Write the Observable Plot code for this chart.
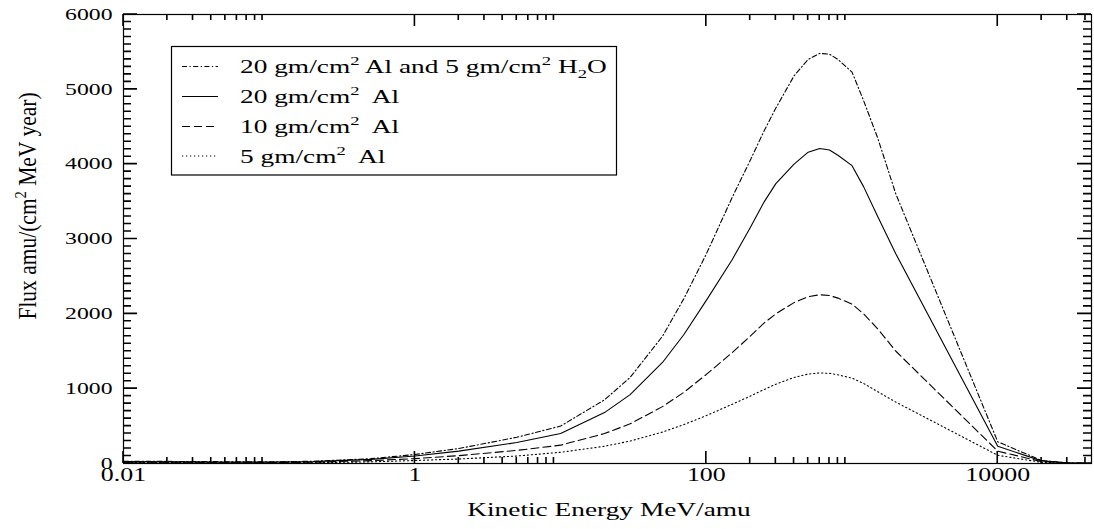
<!DOCTYPE html>
<html><head><meta charset="utf-8">
<script src="https://cdn.jsdelivr.net/npm/d3@7"></script>
<script src="https://cdn.jsdelivr.net/npm/@observablehq/plot@0.6"></script>
<style>
html,body{margin:0;padding:0;background:#fff;}
#chart{position:relative;width:1094px;height:529px;}
</style></head><body><div id="chart"></div>
<script>
// ---- data ----
const energy = [0.01, 0.02, 0.05, 0.1, 0.2, 0.5, 1, 2, 5, 10, 20, 30, 50, 70, 100, 150, 200, 250, 300, 400, 500, 600, 700, 800, 1000, 1200, 1500, 2000, 10000, 20000, 30000, 40000];
const fluxAlH2O = [30, 28, 24, 22, 30, 65, 120, 200, 350, 500, 850, 1150, 1700, 2200, 2800, 3550, 4050, 4450, 4750, 5180, 5400, 5480, 5470, 5400, 5230, 4850, 4350, 3600, 290, 40, 10, 0];
const flux20Al = [25, 22, 18, 18, 25, 55, 100, 165, 280, 400, 680, 920, 1350, 1720, 2180, 2720, 3150, 3500, 3740, 4000, 4160, 4210, 4190, 4120, 3980, 3700, 3300, 2800, 230, 35, 8, 0];
const flux10Al = [20, 17, 13, 12, 17, 38, 65, 105, 175, 245, 400, 530, 760, 950, 1190, 1480, 1700, 1880, 2000, 2150, 2230, 2255, 2245, 2210, 2130, 2000, 1800, 1500, 165, 25, 6, 0];
const flux5Al = [15, 12, 8, 7, 10, 22, 40, 60, 100, 150, 230, 300, 420, 520, 640, 790, 900, 990, 1060, 1150, 1195, 1210, 1205, 1185, 1140, 1070, 960, 820, 110, 15, 4, 0];
const seriesLabels = ["20 gm/cm² Al and 5 gm/cm² H₂O", "20 gm/cm²  Al", "10 gm/cm²  Al", "5 gm/cm²  Al"];
const xTickValues = [0.01, 1, 100, 10000];
const xTickLabels = ["0.01", "1", "100", "10000"];
const xMinorTicks = [0.02,0.03,0.04,0.05,0.06,0.07,0.08,0.09, 2,3,4,5,6,7,8,9, 200,300,400,500,600,700,800,900, 20000,30000,40000];
const yTickValues = [0, 1000, 2000, 3000, 4000, 5000, 6000];
const yTickLabels = ["0", "1000", "2000", "3000", "4000", "5000", "6000"];
const yMinorTicks = d3.range(100, 6000, 100).filter(v => v % 1000 !== 0);
const xTitle = "Kinetic Energy MeV/amu";
const yTitle = "Flux amu/(cm² MeV year)";

// ---- layout / styles ----
const W = 1094, H = 529, ML = 123, MR = 3, MT = 14, MB = 66;
const dashes = ["5,2.5,1.2,2.5", null, "8,4", "1.2,2.8"];
const fluxes = [fluxAlH2O, flux20Al, flux10Al, flux5Al];
const rows = [];
fluxes.forEach((arr, s) => arr.forEach((v, i) => rows.push({series: seriesLabels[s], energy: energy[i], flux: v})));

const FONT = "'Liberation Serif', 'Times New Roman', 'DejaVu Serif', serif";
const SX = 1.44;

const lineMarks = seriesLabels.map((lab, s) =>
  Plot.line(rows.filter(r => r.series === lab), {x: "energy", y: "flux", stroke: "black", strokeWidth: 1.1, strokeDasharray: dashes[s]})
);

const svgEl = Plot.plot({
  width: W, height: H,
  marginLeft: ML, marginRight: MR, marginTop: MT, marginBottom: MB,
  style: {fontFamily: FONT, background: "white", color: "black"},
  x: {type: "log", domain: [0.01, 44000]},
  y: {domain: [0, 6000]},
  marks: [
    ...lineMarks,
    Plot.axisX(xTickValues, {anchor: "bottom", tickSize: 0, tickPadding: 5, fontSize: 18, label: null,
      tickFormat: d => xTickLabels[xTickValues.indexOf(d)]}),
    Plot.axisY(yTickValues, {anchor: "left", tickSize: 0, tickPadding: 11, fontSize: 16.5, label: null,
      tickFormat: d => yTickLabels[yTickValues.indexOf(d)]}),
    Plot.frame({stroke: "black", strokeWidth: 1.2})
  ]
});
document.getElementById("chart").appendChild(svgEl);
const svg = d3.select(svgEl);

// stretch axis tick labels horizontally like the reference
svg.selectAll("text").each(function() {
  const t = d3.select(this);
  const tr = t.attr("transform") || "";
  t.attr("transform", tr + ` scale(${SX},1)`);
});

// inward ticks on all four sides as one path, positioned with Plot's own scales
const sx = svgEl.scale("x"), sy = svgEl.scale("y");
const fx = v => sx.apply(v), fy = v => sy.apply(v);
const x0 = ML, x1 = W - MR, y0 = MT, y1 = H - MB;
let d = "";
function addX(vals, len) {
  for (const v of vals) {
    const px = fx(v);
    if (!isFinite(px)) continue;
    d += `M${px},${y1}V${y1 - len}M${px},${y0}V${y0 + len}`;
  }
}
function addY(vals, len) {
  for (const v of vals) {
    const py = fy(v);
    if (!isFinite(py)) continue;
    d += `M${x0},${py}H${x0 + len}M${x1},${py}H${x1 - len}`;
  }
}
addX(xTickValues, 12);
addX(xMinorTicks, 6);
addY(yTickValues, 14);
addY(yMinorTicks, 8);
svg.append("path").attr("d", d).attr("fill", "none").attr("stroke", "#000").attr("stroke-width", 1.6);

// helper: add text with sup/sub digits as tspans
function richText(sel, str, fs) {
  sel.style("white-space", "pre");
  let shift = 0;
  let cur = null;
  for (const ch of str) {
    if (ch === "²") {
      sel.append("tspan").attr("dy", -8 - shift).attr("font-size", fs * 0.68).text("2");
      shift = -8; cur = null;
    } else if (ch === "₂") {
      sel.append("tspan").attr("dy", 5 - shift).attr("font-size", fs * 0.68).text("2");
      shift = 5; cur = null;
    } else {
      if (!cur) {
        cur = sel.append("tspan").attr("dy", -shift).text(ch);
        shift = 0;
      } else {
        cur.text(cur.text() + ch);
      }
    }
  }
}

// titles
const xt = svg.append("text")
  .attr("transform", `translate(609,516) scale(${SX},1)`)
  .attr("text-anchor", "middle").attr("font-family", FONT).attr("font-size", 19).attr("fill", "black");
richText(xt, xTitle, 19);

const yt = svg.append("text")
  .attr("transform", `translate(36,206) rotate(-90) scale(1,1.2)`)
  .attr("text-anchor", "middle").attr("font-family", FONT).attr("font-size", 21.5).attr("fill", "black");
richText(yt, yTitle, 21.5);

// legend box
const lg = svg.append("g");
lg.append("rect").attr("x", 171.5).attr("y", 46.5).attr("width", 445).attr("height", 128.5)
  .attr("fill", "white").attr("stroke", "black").attr("stroke-width", 1.2);
const rowBase = [73, 103, 133, 162.5];
seriesLabels.forEach((lab, i) => {
  const yb = rowBase[i];
  lg.append("line").attr("x1", 182).attr("x2", 218).attr("y1", yb - 6.5).attr("y2", yb - 6.5)
    .attr("stroke", "black").attr("stroke-width", 1.1).attr("stroke-dasharray", dashes[i]);
  const t = lg.append("text").attr("transform", `translate(240,${yb}) scale(${SX},1)`)
    .attr("text-anchor", "start")
    .attr("font-family", FONT).attr("font-size", 19).attr("fill", "black");
  richText(t, lab, 19);
});
</script></body></html>
